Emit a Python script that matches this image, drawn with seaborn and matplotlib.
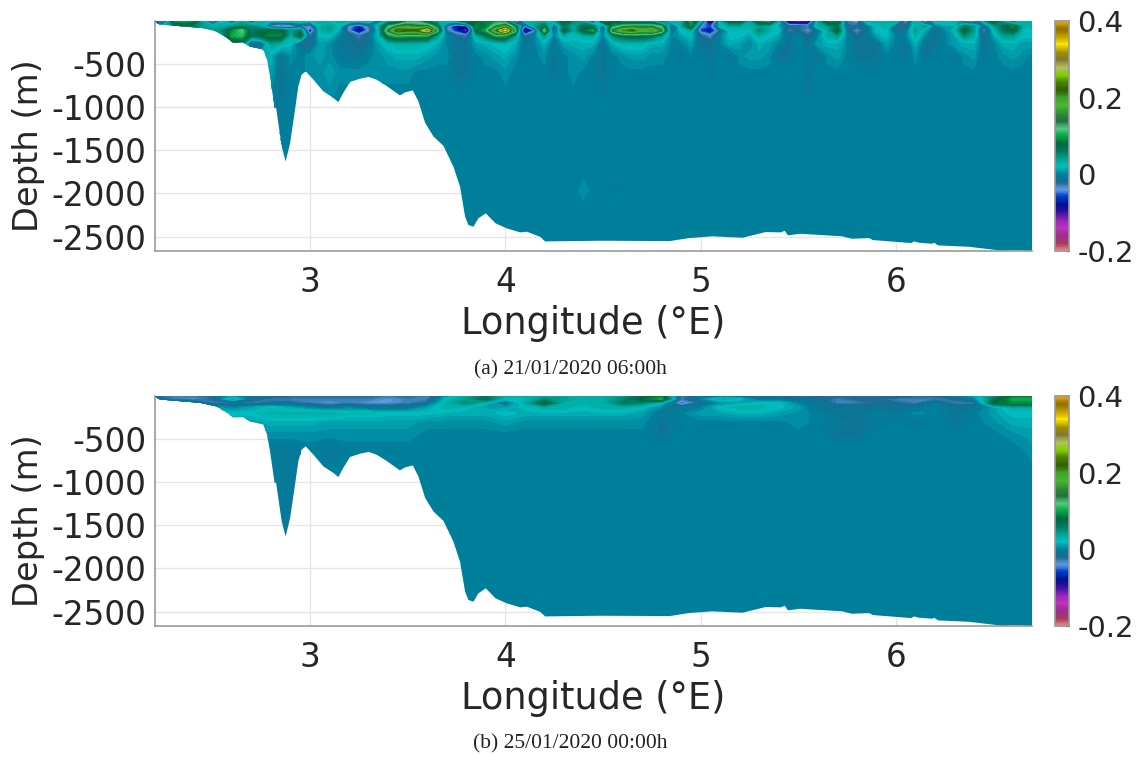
import numpy as np
import seaborn as sns
import matplotlib
matplotlib.use("Agg")
import matplotlib.pyplot as plt
from matplotlib.cm import ScalarMappable
from matplotlib.colors import Normalize
from matplotlib.patches import Polygon

# sea bottom
bottom_lon = [2.206, 2.23, 2.44, 2.52, 2.575, 2.605, 2.657, 2.69, 2.76, 2.78, 2.795, 2.818, 2.826,
              2.855, 2.875, 2.898, 2.918, 2.94, 2.957, 2.978, 3.017, 3.068, 3.12, 3.145, 3.17,
              3.205, 3.256, 3.30, 3.34, 3.39, 3.46, 3.487, 3.526, 3.555, 3.589, 3.632, 3.683,
              3.734, 3.768, 3.794, 3.811, 3.837, 3.862, 3.90, 3.95, 4.007, 4.076, 4.11, 4.178,
              4.204, 4.489, 4.842, 4.94, 5.058, 5.215, 5.333, 5.411, 5.431, 5.447, 5.509, 5.725,
              5.775, 5.863, 5.882, 6.078, 6.094, 6.118, 6.186, 6.196, 6.216, 6.373, 6.55, 6.609, 6.697]
bottom_depth = [-10, -40, -80, -120, -195, -250, -245, -295, -330, -450, -640, -1005, -1005,
                -1456, -1630, -1415, -1107, -758, -622, -584, -680, -816, -893, -940, -835,
                -707, -669, -649, -680, -750, -863, -828, -805, -933, -1180, -1340, -1448,
                -1689, -1921, -2270, -2367, -2386, -2289, -2231, -2347, -2405, -2452, -2444, -2503,
                -2557, -2549, -2553, -2518, -2498, -2514, -2448, -2452, -2433, -2487, -2468, -2498,
                -2526, -2518, -2541, -2576, -2557, -2572, -2584, -2572, -2603, -2619, -2666, -2657, -2668]

# panel (a), values in hundredths, one list per depth, longitude every 0.05
a_lon = [2.2 + 0.05 * i for i in range(91)]
a_depth = [0, -60, -110, -170, -260, -400, -600, -850, -1100, -1750, -1950, -2200, -2700]
a_z0 = [-3, -5, 9, 10, 9, 3, -6, 2, -3, 3,
        -4, 3, 2, 3, 3, 3, 2, 3, 2, 3,
        3, 2, 3, -2, 3, 3, 9, 10, 5, 3,
        3, 3, 9, 8, 9, 9, 8, -11, 3, 3,
        3, 3, 9, 5, 3, -5, 9, 8, 3, 3,
        3, 3, -6, 3, 3, 10, 3, -13, 3, 8,
        8, 3, 9, 10, 3, -12, -13, -12, 3, 9,
        9, -3, -5, 3, 3, 3, 3, -5, 3, -7,
        3, 3, 3, -5, -5, 3, 9, 3, -5, 3, 3]
a_z60 = [2, 3, 5, 6, 6, 4, 3, 3, 4, 5,
         5, 3, -5, -7, -6, -3, -4, 3, 4, 2,
         -4, -7, -3, 3, 10, 14, 16, 14, 14, 8,
         -3, -8, -7, 9, 8, 13, 16, 8, -5, 4,
         7, -2, 6, 3, 7, 6, -2, 9, 12, 13,
         13, 13, 10, -3, 3, 9, -4, -6, 2, 3,
         3, 3, 4, 3, 1, -2, -2, -3, 3, 4,
         6, -2, -2, -1, 2, 3, -2, -2, 3, 4,
         -1, 1, 1, 6, 4, -2, 3, 7, 9, 3, 3]
a_z110 = [3, 3, 3, 3, 4, 4, 4, 5, 9, 12,
          6, 7, 8, 8, 4, 6, -8, 3, 4, 1,
          -4, -10, -4, 2, 14, 24, 22, 22, 30, 12,
          -3, -7, -14, 8, 10, 20, 34, 12, -13, -5,
          12, -4, 8, 3, 8, 10, -4, 14, 20, 22,
          18, 20, 14, -2, 2, 3, -6, -9, -2, 2,
          2, 2, 5, 3, 2, -3, -2, -4, -1, 3,
          8, -1, -4, -1, 2, 2, -2, -1, 4, 1,
          -2, 0, 2, 8, 4, -4, 2, 6, 8, 2, 2]
a_z170 = [2, 2, 2, 2, 3, 3, 3, 4, 10, 11,
          6, 8, 9, 9, 3, 8, -3, 2, 2, 0,
          -1, -3, -1, 2, 9, 11, 10, 10, 10, 4,
          0, -2, -3, 3, 6, 10, 10, 4, -3, 0,
          4, 0, 3, 2, 3, 3, 0, 5, 7, 8,
          8, 7, 4, 0, 1, 2, -2, -4, 0, 2,
          2, 1, 3, 2, 1, -1, 0, -2, 0, 3,
          4, 0, -2, -1, 1, 2, 0, 0, 3, 0,
          -1, 0, 1, 5, 3, -2, 1, 4, 4, 2, 2]
a_z260 = [1, 1, 1, 1, 2, 2, 2, 3, 6, 6,
          -3, -2, 4, 3, 2, -2, -2, 1, 0.5, -1,
          -1, -2, -1, 1, 2.5, 3, 3, 3, 2.5, 1.5,
          0, -1, -1, 1, 1.5, 2, 2.5, 1.5, -1, 0,
          1.5, -1, 1, 1.5, 1.5, 1.5, -1, 1.5, 2.5, 2.5,
          2.5, 1.5, 1.5, 0, 0, 1, -1, -1, 0, 1.5,
          1, 0, 1.5, 1, 0, -1, 0, -1, 1, 1.5,
          1.5, 0, -1, -1, -1, 1, 0, -1, 1.5, -1,
          -1, 0, 1, 1.5, 1.5, -1, 0, 1.5, 1.5, 1, 1]
a_z400 = [1, 1, 1, 1, 1, 1, 1, 1, 1, 1,
          2, 2, 1.5, -1, 0.5, 0, 0.5, 1, 0.5, -0.5,
          -1, -1, 0, 0.5, 1, 1.5, 1.5, 1.5, 1, 0.5,
          0.5, -1, -1, 0, 0.5, 1, 1.5, 0.5, -0.5, 0,
          0.5, -1, 0, 0.5, 1, 0, -1, 0, 0.5, 1,
          1, 0.5, 0.5, 0, -1, 0, 0, -1, 0, -1,
          0.5, 1, 1, 0.5, -1, -1, 0, 0, -1, 0.5,
          1, 0, -1, -1, -1, 0, 0, -1, 0.5, -1,
          0, 0, -1, 0.5, 1, -1, 0, 0.5, 1, 0.5, 0]
a_z600 = [0.5, 0.5, 0.5, 0.5, 0.5, 0.5, 0.5, 0.5, 0.5, 0.5,
          1, 1, 1, -1, 0, 0, 0.5, 0.5, 1, 0.5,
          0.5, 0.5, 0.5, 0.5, 0.5, 0.5, 0.5, 0, 0, 0,
          0, -1, -1, 0, 0, 0, 0.5, 0, 0, 0,
          0, -1, 0, 0.5, 0, 0, -1, 0, 0, 0,
          0, 0, 0, 0, 0, 0, 0, -0.5, 0, 0,
          0, 0, 0, 0, 0, 0, 0, -1, 0, 0,
          0, 0, 0, 0, 0, 0, 0, 0, 0, 0,
          0, 0, 0, 0, 0, 0, 0, 0, 0, 0, 0]
a_z850 = [0, 0, 0, 0, 0, 0, 0, 0, 0, 0,
          0.5, 0.5, 0, -1, 0, 0, 0, 0.5, 0.5, 0,
          0, 0, 0, 0, 0, 0, 0, 0, 0, 0,
          0, 0, 0, 0, 0, 0, 0, 0, 0, 0,
          0, 0, 0, 0, 0, 0, -0.5, 0, 0, 0,
          0, 0, 0, 0, 0, 0, 0, 0, 0, 0,
          0, 0, 0, 0, 0, 0, 0, -0.5, 0, 0,
          0, 0, 0, 0, 0, 0, 0, 0, 0, 0,
          0, 0, 0, 0, 0, 0, 0, 0, 0, 0, 0]
a_z1100 = [0] * 13 + [-0.5] + [0] * 77
a_z1750 = [0] * 91
a_z1950 = [0] * 44 + [0.5, 0, 0, -0.5] + [0] * 43
a_z2200 = [0] * 91
a_z2700 = [0] * 91

# panel (b), same units, longitude every 0.1
b_lon = [2.2 + 0.1 * i for i in range(46)]
b_depth = [0, -35, -80, -130, -200, -300, -450, -600, -900, -2700]
b_z0 = [-2, -3, -3, -2, 1, -1, -1, -2, -2, -2,
        -2, -2, -3, -2, -3, 1, 3, 6, 3, 3,
        3, 3, 3, 3, 4, 7, 9, -3, -1, -1,
        -1, -2, -1, -2, -2, -2, -2, -2, -1, -2,
        -2, -1, 1, 5, 8, 8]
b_z35 = [-1, -3, -4, -2, 3, -1, -3, -3, -3, -3,
         -3, -3, -4, -3, -3, 2, 4, 7, 2, 2,
         5, 4, 3, 3, 5, 8, 10, -3, 0, 3,
         2, -1, -1, -2, -1, -3, -2, -2, -3, -3,
         -3, -2, 0, 6, 10, 10]
b_z80 = [2, 1, 0, -3, -3, -3, -2, -2, -3, -4,
         -3, -4, -4, -3, -2, 3, 5, 2, -2, 3,
         8, 3, 3, 3, 6, 5, 2, -6, -2, 0,
         1, 2, 2, 0, -1, -3, -3, -2, -2, -3,
         -1, -3, -3, 8, 9, 9]
b_z130 = [2, 2, 2, 1, 0, 1, 2, 1, 0, -1,
          0, -1, -1, -1, 1, 3, 2, 1, 1, 2,
          3, 3, 2, 3, 3, 2, 0, -1, 0, 2,
          3, 3, 2, 1, -1, -1, -1, -1, -1, -1,
          0, -1, -1, 1, 3, 3]
b_z200 = [2, 2, 2, 2, 2, 2, 3, 3, 3, 3,
          2.5, 2.5, 2, 2, 2, 1.5, 1.5, 1.5, 2, 1.5,
          1.5, 1.5, 1.5, 1.5, 1.5, 1, -0.5, 0, 1, 1,
          1.5, 1.5, 1, 0.5, 0, -1, -1, 0, -1, 0.5,
          0, -1, 0, 1, 2, 2]
b_z300 = [1, 1, 1, 1, 1, 1, 1.5, 1.5, 1.5, 1,
          1, 1, 1, 1, 0.5, 0.5, 0.5, 0.5, 1, 0.5,
          0.5, 0.5, 0.5, 0.5, 0.5, 0.5, -1, 0, 0, 0,
          0, 0, 0, 0.5, 0, -0.5, -1, -0.5, 0, -1,
          0, -1, 0, 0.5, 1.5, 1.5]
b_z450 = [0.5, 0.5, 0.5, 0.5, 0.5, 0.5, 0.5, 0.5, 0.5, 0.5,
          0.5, 0.5, 0.5, 0.5, 0, 0, 0, 0, 0, 0,
          0, 0, 0, 0, 0, 0, -1, 0, 0, 0,
          0, 0, 0, 0, 0, -1, -1, 0, 0, 0,
          0, 0, 0, 0, 0.5, 1]
b_z600 = [0, 0, 0, 0, 0, 0, -0.5, -0.5, 0, -1,
          0, 0, 0, 0, 0, 0, 0, 0, 0, 0,
          0, 0, 0, 0, 0, 0, 0, 0, 0, 0,
          0, 0, 0, 0, 0, 0, 0, 0, 0, 0,
          0, 0, 0, 0, 0, 0.5]
b_z900 = [0] * 6 + [-0.5, -0.5] + [0] * 38
b_z2700 = [0] * 46

a_rows = [a_z0, a_z60, a_z110, a_z170, a_z260, a_z400, a_z600, a_z850, a_z1100,
          a_z1750, a_z1950, a_z2200, a_z2700]
b_rows = [b_z0, b_z35, b_z80, b_z130, b_z200, b_z300, b_z450, b_z600, b_z900, b_z2700]

xticks = [3, 4, 5, 6]
yticks = [-500, -1000, -1500, -2000, -2500]
cbar_ticks = [-0.2, 0, 0.2, 0.4]
cbar_labels = ["-0.2", "0", "0.2", "0.4"]

# colour bar from -0.2 to 0.4, one colour every 0.02
bar_colors = ["#f08080", "#a03a60", "#a02c90", "#c030c0", "#9028b8", "#3810a0", "#001090",
              "#0038c8", "#5a9ae0", "#1a6a90", "#007f9b", "#00c0c0", "#00a090", "#007860",
              "#006840", "#00a840", "#50c880", "#207040", "#309030", "#48b830", "#40a028",
              "#306000", "#4a8000", "#80d000", "#b0c060", "#807830", "#a09000", "#ffe800",
              "#c0a000", "#907000", "#f0a800"]

sns.set_theme(style="white")
plt.rcParams["font.family"] = ["DejaVu Sans"]
plt.rcParams["axes.unicode_minus"] = False
cmap = sns.blend_palette(bar_colors, n_colors=241, as_cmap=True)
levels = np.arange(-0.2025, 0.4026, 0.005)
W, H = 1138, 757


def draw_panel(top, lon, depth, rows, caption, caption_y):
    ax = fig.add_axes([155 / W, 1 - (top + 230) / H, 877 / W, 230 / H])
    ax.grid(True, color="#e6e6e6", linewidth=1)
    ax.set_axisbelow(True)
    field = np.array(rows) / 100
    cf = ax.contourf(lon, depth, field, levels=levels, cmap=cmap, vmin=-0.2, vmax=0.4)
    cf.set_edgecolor("face")
    cf.set_linewidth(0.2)
    verts = [(bottom_lon[0], 0)] + list(zip(bottom_lon, bottom_depth)) + [(bottom_lon[-1], 0)]
    cf.set_clip_path(Polygon(verts, transform=ax.transData))

    ax.set_xlim(2.206, 6.697)
    ax.set_ylim(-2668, 0)
    ax.set_xticks(xticks)
    ax.set_yticks(yticks)
    ax.tick_params(direction="in", length=6.5, width=1, color="#999999",
                   labelsize=23.5, labelcolor="#262626", pad=6)
    ax.tick_params(axis="x", pad=11)
    ax.set_xlabel("Longitude (°E)", fontsize=26.5, color="#262626", labelpad=4)
    ax.set_ylabel("Depth (m)", fontsize=24.3, color="#262626")
    ax.yaxis.set_label_coords(-0.125, 0.46)
    sns.despine(ax=ax)
    for side in ["left", "bottom"]:
        ax.spines[side].set_color("#999999")
        ax.spines[side].set_linewidth(1.2)

    cax = fig.add_axes([1055 / W, 1 - (top + 230) / H, 14 / W, 230 / H])
    cb = fig.colorbar(ScalarMappable(Normalize(-0.2, 0.4), cmap), cax=cax)
    cb.set_ticks(cbar_ticks, labels=cbar_labels)
    cax.tick_params(direction="in", length=2, width=1, color="#555555",
                    labelsize=21, labelcolor="#262626", pad=6)
    cb.outline.set_edgecolor("#999999")
    fig.text(570.5 / W, 1 - caption_y / H, caption, family="Liberation Serif", fontsize=15.5,
             color="#222222", ha="center", va="center")


fig = plt.figure(figsize=(W / 100, H / 100), dpi=100)
draw_panel(21, a_lon, a_depth, a_rows, "(a) 21/01/2020 06:00h", 370)
draw_panel(396, b_lon, b_depth, b_rows, "(b) 25/01/2020 00:00h", 744)
fig.savefig("out.png", dpi=100)
